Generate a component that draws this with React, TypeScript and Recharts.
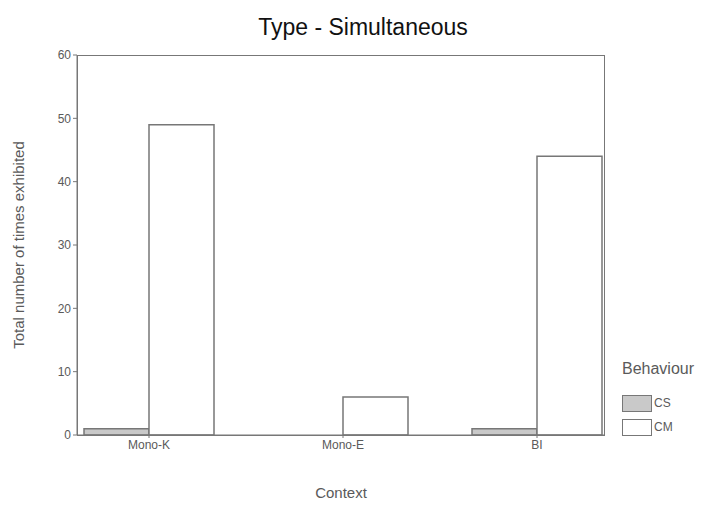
import React from "react";
import { BarChart, Bar, XAxis, YAxis, Label } from "recharts";

const contexts = ["Mono-K", "Mono-E", "BI"];
const csValues = [1, 0, 1];
const cmValues = [49, 6, 44];
const yTicks = [0, 10, 20, 30, 40, 50, 60];
const seriesNames = ["CS", "CM"];
const seriesFills = ["#c9c9c9", "#ffffff"];

const FONT = "'Liberation Sans', Arial, sans-serif";
const INK = "#5a5a5a";

const data = contexts.map((c, i) => ({
  context: c,
  CS: csValues[i],
  CM: cmValues[i],
}));

function BehaviourLegend() {
  return (
    <div
      style={{
        position: "absolute",
        left: 622,
        top: 360,
        fontFamily: FONT,
        color: INK,
      }}
    >
      <div style={{ fontSize: 16, marginBottom: 13 }}>Behaviour</div>
      {seriesNames.map((n, i) => (
        <div key={n} style={{ display: "flex", alignItems: "center", height: 24 }}>
          <span
            style={{
              display: "inline-block",
              width: 30,
              height: 17,
              background: seriesFills[i],
              border: "1.5px solid #777",
              boxSizing: "border-box",
            }}
          />
          <span style={{ fontSize: 12, marginLeft: 2 }}>{n}</span>
        </div>
      ))}
    </div>
  );
}

export default function App() {
  return (
    <div style={{ position: "absolute", left: 0, top: 0, width: 726, height: 512, background: "#fff" }}>
      <div
        style={{
          position: "absolute",
          top: 14,
          width: 726,
          textAlign: "center",
          fontFamily: FONT,
          fontSize: 23,
          color: "#111",
        }}
      >
        Type - Simultaneous
      </div>
      <BarChart
        width={726}
        height={512}
        data={data}
        margin={{ top: 55, right: 121, bottom: 17, left: 47 }}
        barSize={65}
        barGap={0}
        style={{ fontFamily: FONT }}
      >
        <XAxis
          dataKey="context"
          padding={{ left: -25, right: -29 }}
          stroke="#777"
          tickSize={3}
          tick={{ fill: INK, fontSize: 12 }}
          height={60}
        >
          <Label value="Context" position="insideBottom" offset={-3} style={{ fill: INK, fontSize: 15 }} />
        </XAxis>
        <YAxis
          domain={[0, 60]}
          ticks={yTicks}
          stroke="#777"
          tickSize={4}
          width={30}
          tick={{ fill: INK, fontSize: 12 }}
        >
          <Label
            value="Total number of times exhibited"
            angle={-90}
            position="insideLeft"
            offset={-28}
            style={{ textAnchor: "middle", fill: INK, fontSize: 15 }}
          />
        </YAxis>
        <Bar dataKey="CS" fill={seriesFills[0]} stroke="#777" strokeWidth={1.5} isAnimationActive={false} />
        <Bar dataKey="CM" fill={seriesFills[1]} stroke="#777" strokeWidth={1.5} isAnimationActive={false} />
      </BarChart>
      <div
        style={{
          position: "absolute",
          left: 77,
          top: 55,
          width: 528,
          height: 381,
          border: "1.5px solid #777",
          boxSizing: "border-box",
          pointerEvents: "none",
        }}
      />
      <BehaviourLegend />
    </div>
  );
}
